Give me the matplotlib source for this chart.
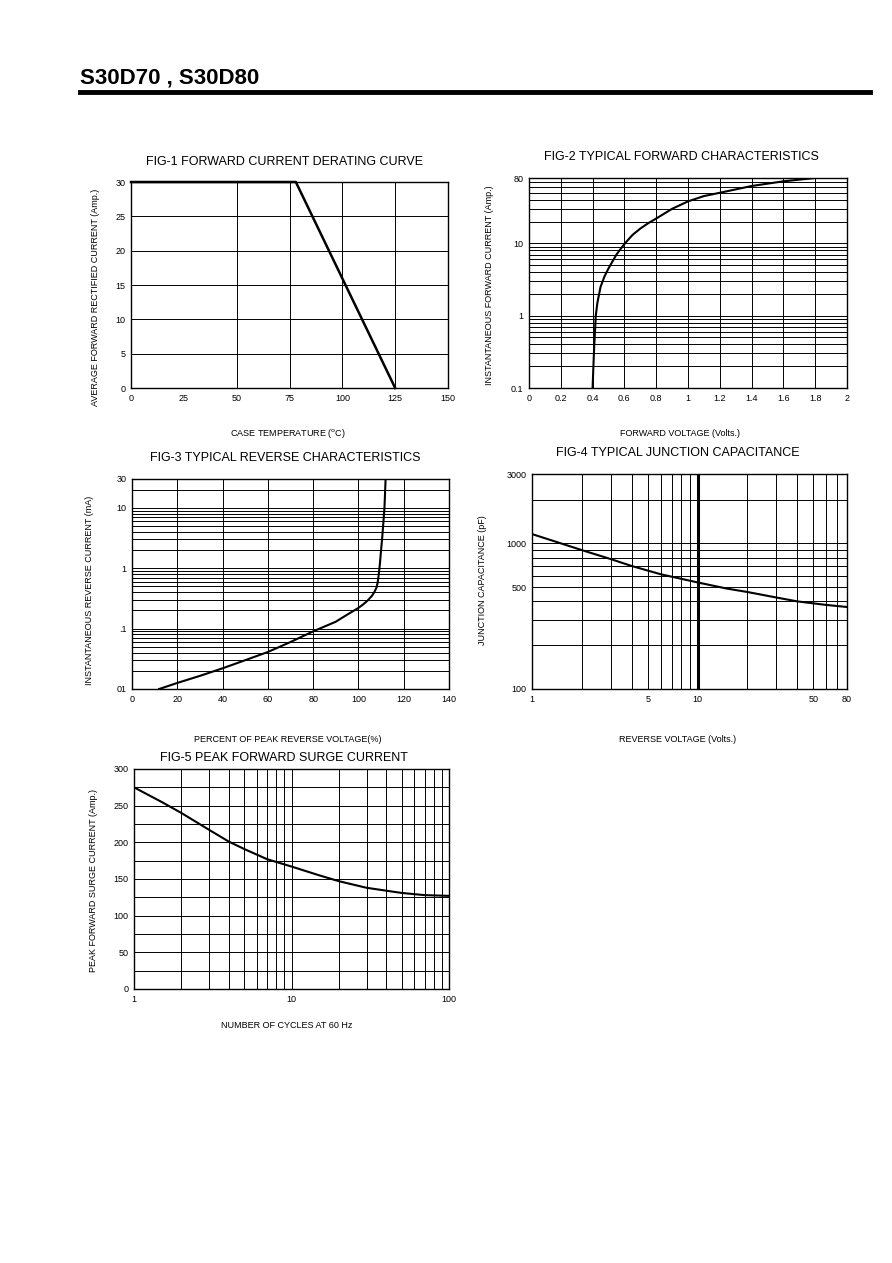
import matplotlib
matplotlib.use("Agg")
import matplotlib.pyplot as plt
from matplotlib.ticker import FixedLocator, NullFormatter

plt.rcParams["font.family"] = ["Liberation Sans Narrow", "Liberation Sans", "DejaVu Sans"]

# FIG-1 forward current derating
temp_c = [0, 78, 125]
avg_current = [30, 30, 0]
derate_vgrid = [50, 75, 100, 125]

# FIG-2 typical forward characteristics
fwd_volt = [0.400, 0.405, 0.410, 0.415, 0.420, 0.430, 0.450, 0.475, 0.500, 0.550,
            0.600, 0.650, 0.700, 0.750, 0.800, 0.900, 1.000, 1.100, 1.200, 1.400,
            1.600, 1.800]
fwd_amp = [0.1, 0.2, 0.37, 0.6, 1.0, 1.5, 2.5, 3.5, 4.5, 7.0,
           9.8, 13, 16, 19, 22, 30, 38, 45, 50, 62,
           72, 80]

# FIG-3 typical reverse characteristics
rev_pct = [12, 20, 30, 40, 50, 60, 70, 80, 90, 95, 100, 102, 104, 106, 107,
           108, 108.5, 109, 109.5, 110, 110.5, 111, 111.5, 112]
rev_ma = [0.01, 0.0126, 0.0165, 0.022, 0.030, 0.041, 0.060, 0.09, 0.13, 0.17, 0.22,
          0.25, 0.29, 0.35, 0.40, 0.48, 0.58, 0.80, 1.2, 2.0, 3.2, 5.6, 10, 30]

# FIG-4 typical junction capacitance
cap_volt = [1, 1.5, 2, 3, 4, 6, 10, 15, 20, 30, 40, 60, 80]
cap_pf = [1160, 1000, 900, 780, 700, 614, 540, 490, 464, 425, 400, 378, 366]

# FIG-5 peak forward surge current
cycles = [1, 1.5, 2, 3, 4, 5, 7, 10, 15, 20, 30, 50, 70, 100]
surge_amp = [275, 255, 240, 217, 201, 191, 177, 167, 155, 147, 138, 131, 128, 127]

W, H = 892, 1263
fig = plt.figure(figsize=(W / 100, H / 100), dpi=100)


def px_axes(x0, y0, x1, y1):
    ax = fig.add_axes([x0 / W, 1 - y1 / H, (x1 - x0) / W, (y1 - y0) / H])
    for s in ax.spines.values():
        s.set_linewidth(1.0)
    ax.tick_params(which="both", length=0, pad=4, labelsize=6.5)
    return ax


def ftext(x, y, s, size=7, ha="center", **kw):
    fig.text(x / W, 1 - y / H, s, ha=ha, va="center", fontsize=size, **kw)


# header
ftext(80, 78, "S30D70 , S30D80", size=16, weight="bold", ha="left")
fig.add_artist(plt.Line2D([80 / W, 870 / W], [1 - 92 / H, 1 - 92 / H], color="black", lw=3.5))

grid_kw = dict(color="black", lw=0.7)

# FIG-1
ax1 = px_axes(131, 182, 448, 388)
ax1.plot(temp_c, avg_current, color="black", lw=1.8, clip_on=False)
ax1.set_xlim(0, 150)
ax1.set_ylim(0, 30)
ax1.set_xticks([0, 25, 50, 75, 100, 125, 150])
ax1.set_yticks([0, 5, 10, 15, 20, 25, 30])
for v in derate_vgrid:
    ax1.axvline(v, **grid_kw)
ax1.grid(which="major", axis="y", **grid_kw)
ftext(285, 162, "FIG-1 FORWARD CURRENT DERATING CURVE", size=9)
ftext(288, 433, "CASE TEMPERATURE ($^{\\rm o}$C)", size=6.5)
ftext(95, 297, "AVERAGE FORWARD RECTIFIED CURRENT (Amp.)", size=6.5, rotation=90)

# FIG-2
ax2 = px_axes(529, 178, 847, 388)
ax2.plot(fwd_volt, fwd_amp, color="black", lw=1.5)
ax2.set_yscale("log")
ax2.set_xlim(0, 2)
ax2.set_ylim(0.1, 80)
ax2.set_xticks([0, 0.2, 0.4, 0.6, 0.8, 1, 1.2, 1.4, 1.6, 1.8, 2])
ax2.set_xticklabels(["0", "0.2", "0.4", "0.6", "0.8", "1", "1.2", "1.4", "1.6", "1.8", "2"])
ax2.set_yticks([0.1, 1, 10, 80])
ax2.set_yticklabels(["0.1", "1", "10", "80"])
ax2.yaxis.set_minor_locator(FixedLocator([0.2, 0.3, 0.4, 0.5, 0.6, 0.7, 0.8, 0.9,
                                          2, 3, 4, 5, 6, 7, 8, 9, 20, 30, 40, 50, 60, 70]))
ax2.yaxis.set_minor_formatter(NullFormatter())
ax2.grid(which="both", **grid_kw)
ftext(681, 157, "FIG-2 TYPICAL FORWARD CHARACTERISTICS", size=9)
ftext(680, 433, "FORWARD VOLTAGE (Volts.)", size=6.5)
ftext(490, 285, "INSTANTANEOUS FORWARD CURRENT (Amp.)", size=6.5, rotation=90)

# FIG-3
ax3 = px_axes(132, 479, 449, 689)
ax3.plot(rev_pct, rev_ma, color="black", lw=1.5)
ax3.set_yscale("log")
ax3.set_xlim(0, 140)
ax3.set_ylim(0.01, 30)
ax3.set_xticks([0, 20, 40, 60, 80, 100, 120, 140])
ax3.set_yticks([0.01, 0.1, 1, 10, 30])
ax3.set_yticklabels(["01", ".1", "1", "10", "30"])
ax3.yaxis.set_minor_locator(FixedLocator([0.02, 0.03, 0.04, 0.05, 0.06, 0.07, 0.08, 0.09,
                                          0.2, 0.3, 0.4, 0.5, 0.6, 0.7, 0.8, 0.9,
                                          2, 3, 4, 5, 6, 7, 8, 9, 20]))
ax3.yaxis.set_minor_formatter(NullFormatter())
ax3.grid(which="both", **grid_kw)
ftext(285, 458, "FIG-3 TYPICAL REVERSE CHARACTERISTICS", size=9)
ftext(288, 740, "PERCENT OF PEAK REVERSE VOLTAGE(%)", size=6.5)
ftext(90, 590, "INSTANTANEOUS REVERSE CURRENT (mA)", size=6.5, rotation=90)

# FIG-4
ax4 = px_axes(532, 474, 847, 689)
ax4.plot(cap_volt, cap_pf, color="black", lw=1.5)
ax4.set_xscale("log")
ax4.set_yscale("log")
ax4.set_xlim(1, 80)
ax4.set_ylim(100, 3000)
ax4.set_xticks([1, 5, 10, 50, 80])
ax4.set_xticklabels(["1", "5", "10", "50", "80"])
ax4.set_yticks([100, 500, 1000, 3000])
ax4.set_yticklabels(["100", "500", "1000", "3000"])
ax4.xaxis.set_minor_locator(FixedLocator([2, 3, 4, 6, 7, 8, 9, 20, 30, 40, 60, 70]))
ax4.yaxis.set_minor_locator(FixedLocator([200, 300, 400, 600, 700, 800, 900, 2000]))
ax4.xaxis.set_minor_formatter(NullFormatter())
ax4.yaxis.set_minor_formatter(NullFormatter())
ax4.grid(which="both", **grid_kw)
ax4.axvline(10, color="black", lw=2.2)
ftext(678, 453, "FIG-4 TYPICAL JUNCTION CAPACITANCE", size=9)
ftext(678, 740, "REVERSE VOLTAGE (Volts.)", size=6.5)
ftext(483, 580, "JUNCTION CAPACITANCE (pF)", size=6.5, rotation=90)

# FIG-5
ax5 = px_axes(134, 769, 449, 989)
ax5.plot(cycles, surge_amp, color="black", lw=1.5)
ax5.set_xscale("log")
ax5.set_xlim(1, 100)
ax5.set_ylim(0, 300)
ax5.set_xticks([1, 10, 100])
ax5.set_xticklabels(["1", "10", "100"])
ax5.set_yticks([0, 50, 100, 150, 200, 250, 300])
ax5.xaxis.set_minor_locator(FixedLocator([2, 3, 4, 5, 6, 7, 8, 9, 20, 30, 40, 50, 60, 70, 80, 90]))
ax5.yaxis.set_minor_locator(FixedLocator([25, 75, 125, 175, 225, 275]))
ax5.xaxis.set_minor_formatter(NullFormatter())
ax5.grid(which="both", **grid_kw)
ftext(284, 758, "FIG-5 PEAK FORWARD SURGE CURRENT", size=9)
ftext(287, 1025, "NUMBER OF CYCLES AT 60 Hz", size=6.5)
ftext(93, 880, "PEAK FORWARD SURGE CURRENT (Amp.)", size=6.5, rotation=90)

fig.savefig("out.png", dpi=100)
